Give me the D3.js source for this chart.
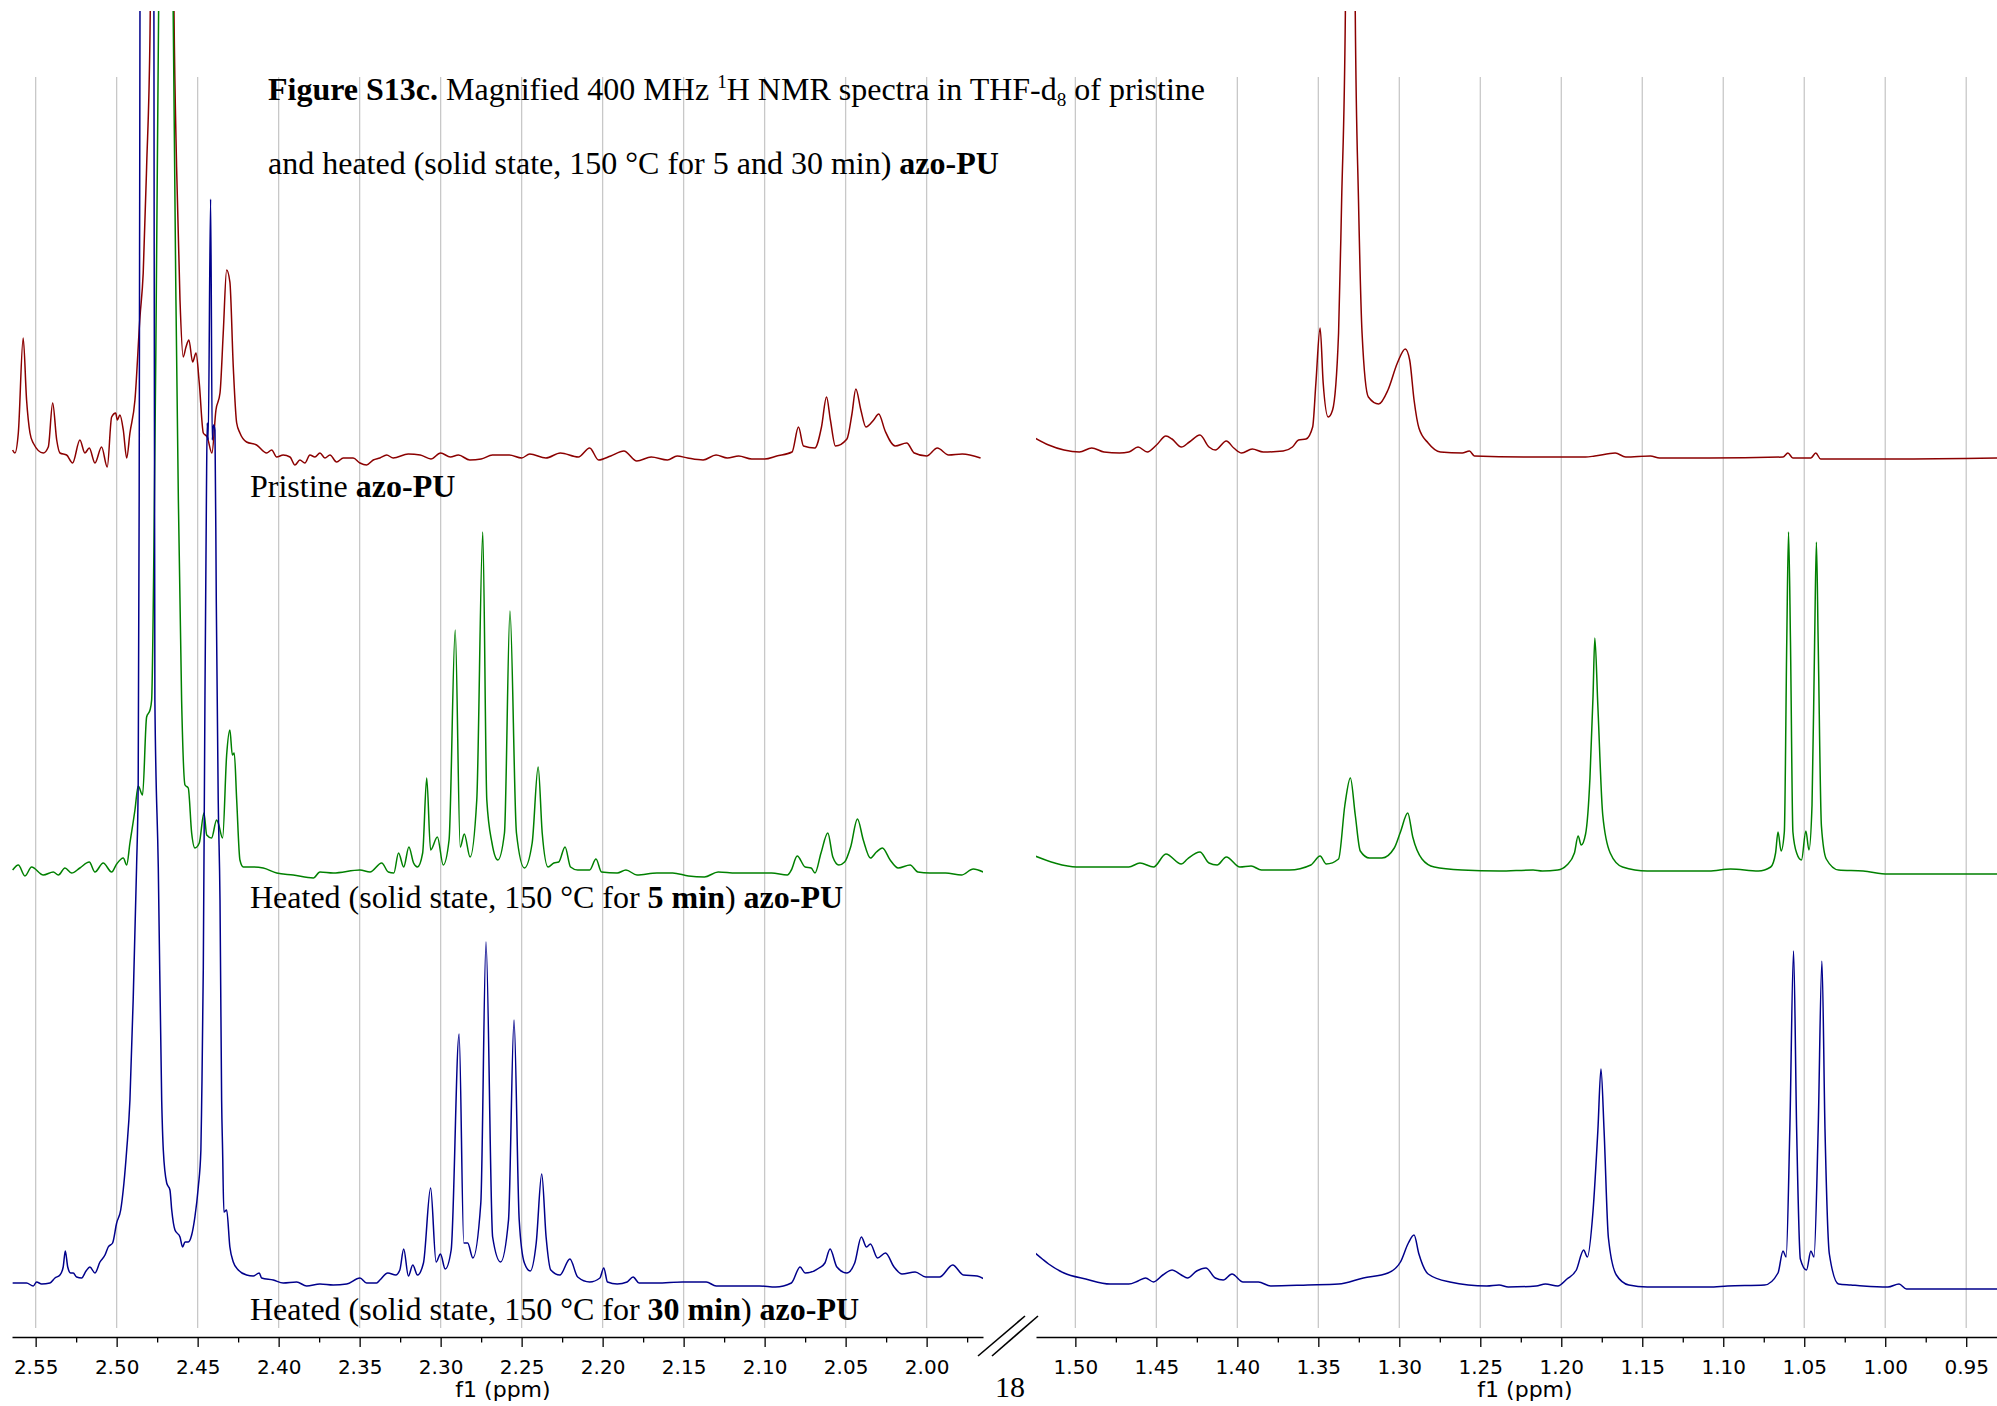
<!DOCTYPE html>
<html><head><meta charset="utf-8">
<script src="https://cdn.jsdelivr.net/npm/d3@7"></script>
<style>body{margin:0;background:#fff} svg{display:block}</style>
</head><body>
<svg id="chart" width="1997" height="1406"></svg>
<script>
// ---------------- DATA ----------------
const leftTicks  = [2.55,2.50,2.45,2.40,2.35,2.30,2.25,2.20,2.15,2.10,2.05,2.00];
const leftMinor  = [2.525,2.475,2.425,2.375,2.325,2.275,2.225,2.175,2.125,2.075,2.025,1.975];
const rightTicks = [1.50,1.45,1.40,1.35,1.30,1.25,1.20,1.15,1.10,1.05,1.00,0.95];
const rightMinor = [1.475,1.425,1.375,1.325,1.275,1.225,1.175,1.125,1.075,1.025,0.975];
const axisTitle = "f1 (ppm)";
const seriesColors = ["#8B0000", "#008000", "#00008B"];
const stackOffsets = [880, 465, 52];   // vertical stacking of the three spectra (a.u.)

// [ppm, intensity a.u.]
const pristineLeft = [[2.5642,7],[2.5628,4],[2.5607,24],[2.5577,119],[2.5556,57],[2.5535,24],[2.5515,14],[2.5453,4],[2.5422,10],[2.5395,54],[2.5370,17],[2.5350,4],[2.5309,2],[2.5272,-6],[2.5227,17],[2.5196,4],[2.5169,9],[2.5134,-6],[2.5093,10],[2.5058,-10],[2.5031,40],[2.5006,44],[2.4996,37],[2.4980,42],[2.4959,27],[2.4938,-1],[2.4918,24],[2.4887,57],[2.4856,140],[2.4836,184],[2.4815,290],[2.4794,424],[2.4785,557],[2.4720,1957],[2.4652,557],[2.4646,446],[2.4630,290],[2.4609,157],[2.4589,100],[2.4572,110],[2.4554,117],[2.4531,95],[2.4510,104],[2.4490,74],[2.4465,24],[2.4441,20],[2.4412,4],[2.4387,47],[2.4362,64],[2.4342,124],[2.4321,187],[2.4301,175],[2.4280,90],[2.4259,34],[2.4239,24],[2.4198,15],[2.4136,12],[2.4074,4],[2.4043,7],[2.4012,0],[2.3972,2],[2.3930,0],[2.3899,-8],[2.3869,-3],[2.3838,-6],[2.3807,2],[2.3776,0],[2.3745,4],[2.3714,-1],[2.3683,2],[2.3642,-5],[2.3601,-1],[2.3540,-1],[2.3498,-6],[2.3457,-8],[2.3416,-3],[2.3375,-1],[2.3333,2],[2.3293,-1],[2.3200,3],[2.3126,2],[2.3060,-2],[2.3000,4],[2.2940,0],[2.2890,2],[2.2820,-3],[2.2750,-2],[2.2680,2],[2.2576,2],[2.2500,-1],[2.2450,3],[2.2350,-1],[2.2261,4],[2.2150,0],[2.2080,9],[2.2025,-3],[2.1950,1],[2.1869,6],[2.1789,-4],[2.1700,0],[2.1600,-3],[2.1540,1],[2.1475,-1],[2.1380,-3],[2.1300,2],[2.1230,-1],[2.1160,1],[2.1080,-2],[2.1000,-2],[2.0925,1],[2.0831,5],[2.0791,30],[2.0760,11],[2.0690,9],[2.0649,30],[2.0618,60],[2.0594,37],[2.0563,11],[2.0492,18],[2.0461,43],[2.0437,68],[2.0406,47],[2.0375,30],[2.0327,37],[2.0296,43],[2.0256,26],[2.0194,11],[2.0123,14],[2.0076,4],[2.0000,1],[1.9934,9],[1.9864,2],[1.9780,3],[1.9667,-1]];

const heated5Left = [[2.5642,2],[2.5607,7],[2.5566,-4],[2.5525,5],[2.5453,-3],[2.5391,0],[2.5360,-3],[2.5319,4],[2.5278,-1],[2.5227,4],[2.5169,10],[2.5134,0],[2.5083,9],[2.5031,0],[2.5000,8],[2.4959,14],[2.4938,7],[2.4918,29],[2.4887,62],[2.4867,86],[2.4840,77],[2.4815,155],[2.4794,162],[2.4784,172],[2.4770,322],[2.4758,522],[2.4741,861],[2.4696,2372],[2.4651,861],[2.4634,572],[2.4619,372],[2.4599,172],[2.4578,87],[2.4558,84],[2.4537,39],[2.4517,24],[2.4490,29],[2.4461,59],[2.4444,37],[2.4414,34],[2.4383,52],[2.4373,49],[2.4346,34],[2.4321,117],[2.4301,142],[2.4286,117],[2.4274,119],[2.4259,72],[2.4239,12],[2.4218,5],[2.4157,5],[2.4095,4],[2.4012,-1],[2.3910,-3],[2.3786,-6],[2.3745,0],[2.3663,-1],[2.3498,2],[2.3436,0],[2.3364,9],[2.3323,0],[2.3289,-1],[2.3260,19],[2.3228,5],[2.3196,25],[2.3167,9],[2.3143,5],[2.3111,19],[2.3086,94],[2.3062,22],[2.3020,35],[2.2984,7],[2.2948,32],[2.2910,242],[2.2879,25],[2.2854,38],[2.2818,15],[2.2777,72],[2.2740,340],[2.2715,72],[2.2683,29],[2.2647,12],[2.2606,39],[2.2572,261],[2.2532,39],[2.2483,4],[2.2435,29],[2.2398,105],[2.2373,39],[2.2337,5],[2.2301,9],[2.2271,10],[2.2232,25],[2.2198,5],[2.2154,2],[2.2080,2],[2.2041,13],[2.2007,0],[2.1910,-1],[2.1856,2],[2.1788,-3],[2.1665,-1],[2.1568,-1],[2.1470,-4],[2.1372,-5],[2.1287,0],[2.1177,-1],[2.1055,-1],[2.0957,-1],[2.0860,-3],[2.0835,2],[2.0799,16],[2.0750,5],[2.0713,4],[2.0689,-1],[2.0652,19],[2.0610,39],[2.0579,15],[2.0542,7],[2.0506,10],[2.0469,25],[2.0427,53],[2.0391,32],[2.0347,14],[2.0310,20],[2.0273,24],[2.0225,12],[2.0176,4],[2.0102,7],[2.0054,0],[1.9981,-1],[1.9883,-1],[1.9785,-3],[1.9712,3],[1.9651,0]];

const heated30Left = [[2.5642,2],[2.5597,2],[2.5556,2],[2.5515,-1],[2.5494,3],[2.5463,1],[2.5412,2],[2.5381,7],[2.5350,10],[2.5330,18],[2.5317,34],[2.5302,18],[2.5284,12],[2.5268,12],[2.5247,8],[2.5216,7],[2.5189,14],[2.5165,18],[2.5134,12],[2.5103,23],[2.5072,30],[2.5052,38],[2.5025,42],[2.5000,62],[2.4975,75],[2.4955,102],[2.4938,135],[2.4918,185],[2.4898,285],[2.4877,418],[2.4867,502],[2.4861,785],[2.4856,1274],[2.4813,4285],[2.4770,1274],[2.4764,585],[2.4743,418],[2.4722,185],[2.4712,135],[2.4691,102],[2.4671,95],[2.4660,75],[2.4640,55],[2.4609,48],[2.4593,38],[2.4578,43],[2.4558,43],[2.4537,50],[2.4517,68],[2.4496,98],[2.4480,135],[2.4475,185],[2.4465,318],[2.4455,585],[2.4446,785],[2.4441,862],[2.4435,845],[2.4420,1086],[2.4410,845],[2.4402,860],[2.4393,855],[2.4385,685],[2.4373,485],[2.4362,385],[2.4352,185],[2.4346,135],[2.4338,73],[2.4321,75],[2.4301,38],[2.4280,23],[2.4249,15],[2.4198,10],[2.4157,9],[2.4120,12],[2.4105,7],[2.4033,5],[2.3972,2],[2.3889,3],[2.3827,-1],[2.3745,1],[2.3663,0],[2.3580,1],[2.3498,7],[2.3457,2],[2.3395,2],[2.3375,5],[2.3326,12],[2.3277,10],[2.3252,15],[2.3228,36],[2.3199,9],[2.3172,20],[2.3143,10],[2.3106,22],[2.3062,97],[2.3028,23],[2.3001,31],[2.2972,16],[2.2935,35],[2.2886,251],[2.2857,42],[2.2833,42],[2.2801,27],[2.2752,82],[2.2720,343],[2.2679,48],[2.2630,23],[2.2581,65],[2.2547,265],[2.2515,65],[2.2483,22],[2.2447,14],[2.2410,42],[2.2376,111],[2.2349,48],[2.2320,15],[2.2264,10],[2.2202,26],[2.2154,8],[2.2080,3],[2.2017,7],[2.1993,17],[2.1970,3],[2.1910,1],[2.1849,3],[2.1812,8],[2.1775,2],[2.1665,2],[2.1507,3],[2.1360,3],[2.1299,-1],[2.1177,-1],[2.1031,-1],[2.0933,-2],[2.0835,2],[2.0781,18],[2.0750,12],[2.0664,17],[2.0628,22],[2.0596,36],[2.0554,18],[2.0493,12],[2.0444,22],[2.0403,48],[2.0371,38],[2.0347,41],[2.0303,27],[2.0254,32],[2.0201,18],[2.0152,11],[2.0071,13],[2.0005,8],[1.9920,8],[1.9839,20],[1.9773,10],[1.9688,9],[1.9644,6]];

const pristineRight = [[1.5249,19],[1.5165,12],[1.5070,7],[1.4975,5],[1.4899,9],[1.4823,5],[1.4727,4],[1.4670,5],[1.4613,10],[1.4556,5],[1.4499,12],[1.4441,21],[1.4403,18],[1.4346,10],[1.4296,15],[1.4231,22],[1.4175,10],[1.4136,7],[1.4068,16],[1.4022,9],[1.3973,4],[1.3908,8],[1.3840,5],[1.3717,6],[1.3660,10],[1.3622,17],[1.3576,18],[1.3535,30],[1.3515,74],[1.3489,129],[1.3470,74],[1.3439,40],[1.3412,47],[1.3375,124],[1.3356,257],[1.3333,445],[1.3302,2957],[1.3272,445],[1.3252,257],[1.3230,124],[1.3191,60],[1.3127,53],[1.3070,67],[1.3012,94],[1.2963,108],[1.2936,97],[1.2909,57],[1.2879,29],[1.2822,14],[1.2746,5],[1.2612,4],[1.2567,6],[1.2536,1],[1.2231,0],[1.1850,0],[1.1793,1],[1.1667,4],[1.1602,0],[1.1450,1],[1.1393,-1],[1.1088,-1],[1.0631,0],[1.0601,4],[1.0570,-1],[1.0459,-1],[1.0429,4],[1.0399,-2],[0.9945,-2],[0.9305,-1]];

const heated5Right = [[1.5249,16],[1.5127,9],[1.4994,5],[1.4785,5],[1.4670,5],[1.4601,9],[1.4517,5],[1.4441,18],[1.4346,8],[1.4308,13],[1.4231,20],[1.4175,9],[1.4125,7],[1.4068,15],[1.3984,5],[1.3915,6],[1.3851,2],[1.3679,2],[1.3546,7],[1.3489,16],[1.3451,8],[1.3375,13],[1.3336,67],[1.3302,94],[1.3272,57],[1.3241,21],[1.3184,14],[1.3107,14],[1.3031,24],[1.2993,40],[1.2948,59],[1.2917,35],[1.2860,13],[1.2784,5],[1.2612,2],[1.2384,1],[1.2174,2],[1.2117,1],[1.2022,2],[1.1965,7],[1.1919,19],[1.1896,36],[1.1877,27],[1.1850,38],[1.1823,94],[1.1804,176],[1.1793,234],[1.1774,165],[1.1744,57],[1.1698,19],[1.1622,5],[1.1469,1],[1.1088,1],[1.0955,3],[1.0783,1],[1.0707,5],[1.0677,19],[1.0662,40],[1.0643,21],[1.0623,40],[1.0608,230],[1.0597,340],[1.0585,230],[1.0570,40],[1.0547,19],[1.0517,12],[1.0490,41],[1.0471,22],[1.0452,67],[1.0436,230],[1.0425,330],[1.0414,230],[1.0394,46],[1.0364,13],[1.0288,2],[1.0136,1],[0.9983,-2],[0.9755,-2],[0.9305,-2]];

const heated30Right = [[1.5249,32],[1.5204,26],[1.5165,21],[1.5070,12],[1.4936,6],[1.4785,1],[1.4670,1],[1.4613,4],[1.4567,7],[1.4517,3],[1.4460,10],[1.4403,15],[1.4346,10],[1.4308,7],[1.4251,14],[1.4194,17],[1.4136,7],[1.4087,5],[1.4033,11],[1.3965,3],[1.3870,3],[1.3794,-1],[1.3565,0],[1.3375,1],[1.3222,7],[1.3070,12],[1.2993,23],[1.2944,42],[1.2909,50],[1.2879,31],[1.2822,11],[1.2688,3],[1.2460,-1],[1.2384,0],[1.2327,-2],[1.2155,-1],[1.2098,1],[1.2022,-1],[1.1965,6],[1.1907,15],[1.1862,35],[1.1839,28],[1.1804,74],[1.1774,155],[1.1755,216],[1.1736,155],[1.1709,47],[1.1660,10],[1.1583,0],[1.1469,-2],[1.1088,-2],[1.0974,-1],[1.0745,0],[1.0662,12],[1.0631,34],[1.0612,28],[1.0589,156],[1.0566,334],[1.0547,156],[1.0524,26],[1.0486,15],[1.0459,34],[1.0440,28],[1.0414,156],[1.0391,324],[1.0372,156],[1.0345,31],[1.0288,1],[1.0212,0],[1.0136,-1],[0.9983,-2],[0.9915,1],[0.9869,-4],[0.9564,-4],[0.9305,-4]];

// ---------------- DRAWING ----------------
const W = 1997, H = 1406;
const svg = d3.select('#chart');
svg.append('rect').attr('width', W).attr('height', H).attr('fill', '#fff');

const axisY = 1337, gridTop = 77, gridBottom = 1328, clipTop = 11;
const yScale = d3.scaleLinear().domain([0, 1000]).range([axisY, axisY - 1000]);

const panels = [
  {id: 'L', domain: [2.5646, 1.9652], range: [12, 983], ticks: leftTicks, minor: leftMinor,
   series: [pristineLeft, heated5Left, heated30Left], titleX: 503},
  {id: 'R', domain: [1.5243, 0.9310], range: [1036, 1997], ticks: rightTicks, minor: rightMinor,
   series: [pristineRight, heated5Right, heated30Right], titleX: 1525}
];

const defs = svg.append('defs');
const gridG = svg.append('g');
const traceG = svg.append('g');
const axisG = svg.append('g');
const textG = svg.append('g');

panels.forEach(p => {
  const x = d3.scaleLinear().domain(p.domain).range(p.range);
  gridG.selectAll('line.g' + p.id).data(p.ticks).join('line')
    .attr('x1', d => x(d)).attr('x2', d => x(d))
    .attr('y1', gridTop).attr('y2', gridBottom)
    .attr('stroke', '#c8c8c8').attr('stroke-width', 1.3);
  defs.append('clipPath').attr('id', 'clip' + p.id).append('rect')
    .attr('x', p.range[0]).attr('y', clipTop)
    .attr('width', p.range[1] - p.range[0]).attr('height', axisY - clipTop);
  const gT = traceG.append('g').attr('clip-path', `url(#clip${p.id})`);
  p.series.forEach((s, i) => {
    const line = d3.line().x(d => x(d[0])).y(d => yScale(stackOffsets[i] + d[1]))
      .curve(d3.curveMonotoneX);
    gT.append('path').datum(s).attr('d', line)
      .attr('fill', 'none').attr('stroke', seriesColors[i]).attr('stroke-width', 1.5)
      .attr('stroke-linejoin', 'round');
  });
  const major = d3.axisBottom(x).tickValues(p.ticks).tickSize(10).tickSizeOuter(0)
    .tickPadding(13).tickFormat(d3.format('.2f'));
  const gA = axisG.append('g').attr('transform', `translate(0,${axisY})`).call(major);
  gA.select('.domain').attr('stroke', '#000').attr('stroke-width', 1.7);
  gA.selectAll('.tick line').attr('stroke', '#000').attr('stroke-width', 1.3);
  gA.selectAll('.tick text').attr('font-family', '"DejaVu Sans", Verdana, sans-serif')
    .attr('font-size', 20).attr('fill', '#000');
  const minor = d3.axisBottom(x).tickValues(p.minor).tickSize(5.5).tickSizeOuter(0).tickFormat('');
  const gM = axisG.append('g').attr('transform', `translate(0,${axisY})`).call(minor);
  gM.select('.domain').remove();
  gM.selectAll('.tick line').attr('stroke', '#000').attr('stroke-width', 1.3);
  axisG.append('text').attr('x', p.titleX).attr('y', 1397).attr('text-anchor', 'middle')
    .attr('font-family', '"DejaVu Sans", Verdana, sans-serif').attr('font-size', 22)
    .text(axisTitle);
});

// axis break marks
[[978, 1356, 1025, 1316], [992, 1356, 1038, 1316]].forEach(b => {
  axisG.append('line').attr('x1', b[0]).attr('y1', b[1]).attr('x2', b[2]).attr('y2', b[3])
    .attr('stroke', '#000').attr('stroke-width', 1.6);
});

// ---------------- TEXT ----------------
const serif = '"Liberation Serif", "Times New Roman", serif';
function richText(x, y, parts, size) {
  const t = textG.append('text').attr('x', x).attr('y', y)
    .attr('font-family', serif).attr('font-size', size).attr('fill', '#000');
  parts.forEach(pt => {
    const s = t.append('tspan').text(pt.t);
    if (pt.b) s.attr('font-weight', 'bold');
    if (pt.sup) s.attr('font-size', size * 0.6).attr('dy', -size * 0.38);
    if (pt.sub) s.attr('font-size', size * 0.6).attr('dy', size * 0.2);
    if (pt.dy) s.attr('dy', pt.dy);
  });
  return t;
}
const fs = 32;
richText(268, 100, [
  {t: 'Figure S13c.', b: true}, {t: ' Magnified 400 MHz '},
  {t: '1', sup: true}, {t: 'H NMR spectra in THF-d', dy: fs * 0.38},
  {t: '8', sub: true}, {t: ' of pristine', dy: -fs * 0.2}
], fs);
richText(268, 174, [
  {t: 'and heated (solid state, 150 °C for 5 and 30 min) '}, {t: 'azo-PU', b: true}
], fs);
richText(250, 497, [{t: 'Pristine '}, {t: 'azo-PU', b: true}], fs);
richText(250, 908, [{t: 'Heated (solid state, 150 °C for '}, {t: '5 min', b: true}, {t: ') '}, {t: 'azo-PU', b: true}], fs);
richText(250, 1320, [{t: 'Heated (solid state, 150 °C for '}, {t: '30 min', b: true}, {t: ') '}, {t: 'azo-PU', b: true}], fs);
textG.append('text').attr('x', 1010).attr('y', 1397).attr('text-anchor', 'middle')
  .attr('font-family', serif).attr('font-size', 30).text('18');
</script></body></html>
